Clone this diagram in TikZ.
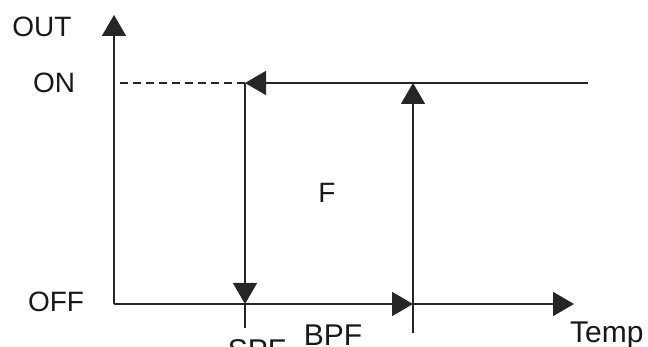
\documentclass[tikz,border=0pt]{standalone}
\usepackage{fontspec}
\setmainfont{Liberation Sans}
\usetikzlibrary{arrows.meta}
\tikzset{
  axisline/.style={line width=1.5pt, draw=black!85},
  tip/.style={-{Triangle[length=21pt,width=24pt]}},
  lbl/.style={font=\fontsize{28}{30}\selectfont, inner sep=0pt, text=black!90},
  biglbl/.style={lbl, font=\fontsize{30}{32}\selectfont},
}
\begin{document}
\begin{tikzpicture}[x=1pt,y=-1pt]
\useasboundingbox (0,0) rectangle (648,347);
% key points
\coordinate (origin) at (114,304);
\coordinate (ytop) at (114,15);
\coordinate (xend) at (574,304);
\coordinate (onleft) at (116,83);
\coordinate (spfon) at (245,83);
\coordinate (spfoff) at (245,304);
\coordinate (spfbot) at (245,328);
\coordinate (bpfon) at (413,83);
\coordinate (bpfoff) at (413,304);
\coordinate (bpfbot) at (413,333);
\coordinate (onright) at (588,83);
% axes
\draw[axisline, tip] (origin) -- (ytop);
\draw[axisline, tip] (origin) -- (bpfoff);
\draw[axisline, tip] (bpfoff) -- (xend);
% hysteresis loop
\draw[axisline, dash pattern=on 8pt off 5pt, dash phase=-4pt, line width=1.3pt] (onleft) -- (spfon);
\draw[axisline, tip] (onright) -- (spfon);
\draw[axisline, tip] (spfon) -- (spfoff);
\draw[axisline] (spfoff) -- (spfbot);
\draw[axisline, tip] (bpfbot) -- (bpfon);
% labels
\node[lbl] (out) at (42,27) {OUT};
\node[lbl] (on) at (54,83) {ON};
\node[lbl] (off) at (56,302) {OFF};
\node[lbl] (f) at (327,193) {F};
\node[biglbl, anchor=base] (bpf) at (333,345) {BPF};
\node[biglbl, anchor=base] (spf) at (257,360) {SPF};
\node[biglbl, anchor=base west] (temp) at (570,343) {Temp};
\end{tikzpicture}
\end{document}
